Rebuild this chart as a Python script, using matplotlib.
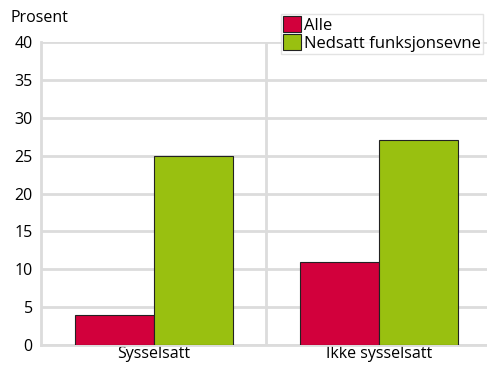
import matplotlib.pyplot as plt
import numpy as np

plt.rcParams["font.family"] = ["Open Sans", "DejaVu Sans"]

categories = ["Sysselsatt", "Ikke sysselsatt"]
alle = [4, 11]
nedsatt = [25, 27]
series_labels = ["Alle", "Nedsatt funksjonsevne"]
yticks = [0, 5, 10, 15, 20, 25, 30, 35, 40]

red = "#d2003c"
green = "#99c010"
grid_col = "#dcdcdc"

fig = plt.figure(figsize=(4.87, 3.66), dpi=100)
ax = fig.add_axes([41 / 487, 1 - 345 / 366, (487 - 41) / 487, (345 - 42) / 366])

x = np.arange(len(categories))
width = 0.35
ax.bar(x - width / 2, alle, width, color=red, edgecolor="#222222", linewidth=0.8,
       label=series_labels[0], zorder=3)
ax.bar(x + width / 2, nedsatt, width, color=green, edgecolor="#222222", linewidth=0.8,
       label=series_labels[1], zorder=3)

ax.set_xlim(-0.5, 1.478)
ax.set_ylim(0, 40)
ax.set_yticks(yticks)
ax.set_xticks(x)
ax.set_xticklabels(categories, fontsize=11.5)
ax.tick_params(axis="y", labelsize=11.5, length=0, pad=6)
ax.tick_params(axis="x", length=0, pad=1)

# horizontal grid plus a divider between the two groups
ax.yaxis.grid(True, color=grid_col, linewidth=2, zorder=0)
ax.axvline(0.5, color=grid_col, linewidth=2, zorder=0)
for side in ["top", "right"]:
    ax.spines[side].set_visible(False)
for side in ["left", "bottom"]:
    ax.spines[side].set_color(grid_col)
    ax.spines[side].set_linewidth(2)

fig.text(10 / 487, 1 - 18 / 366, "Prosent", fontsize=11.5, va="center", ha="left")

leg = ax.legend(loc="upper left", bbox_to_anchor=(281 / 487, 1 - 14 / 366),
                bbox_transform=fig.transFigure, fontsize=12, frameon=True,
                fancybox=False, borderpad=0.12, handlelength=1.1, handleheight=1.1,
                handletextpad=0.15, labelspacing=0.05, borderaxespad=0)
leg.get_frame().set_edgecolor(grid_col)
leg.get_frame().set_linewidth(1)

fig.savefig("out.png", dpi=100)
